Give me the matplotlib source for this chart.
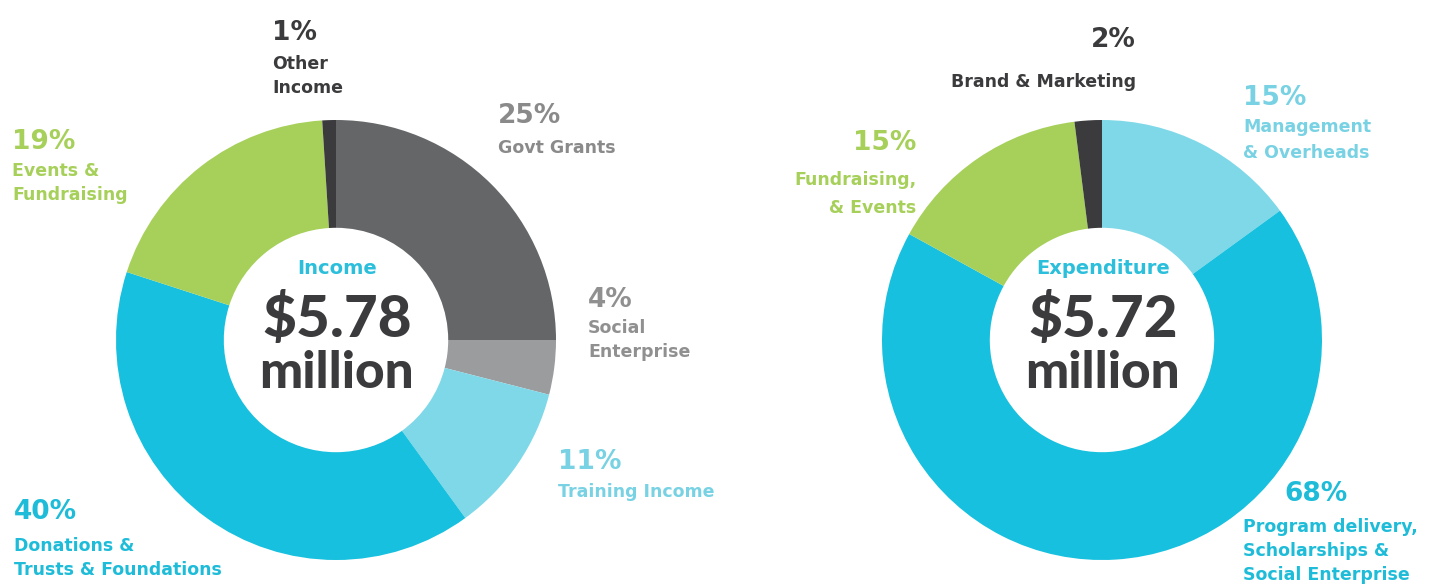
import matplotlib.pyplot as plt

# ----------------------------------------------------
# DATA
# ----------------------------------------------------
income_names = ["Govt Grants", "Social\nEnterprise", "Training Income",
                "Donations &\nTrusts & Foundations", "Events &\nFundraising",
                "Other\nIncome"]
income_pct = [25, 4, 11, 40, 19, 1]
income_total = "$5.78"

expend_names = ["Management\n& Overheads",
                "Program delivery,\nScholarships &\nSocial Enterprise",
                "Fundraising,\n& Events", "Brand & Marketing"]
expend_pct = [15, 68, 15, 2]
expend_total = "$5.72"

# ----------------------------------------------------
# STYLE
# ----------------------------------------------------
W, H = 1446, 584
DARK = "#3b3b3d"
CYAN = "#17c0de"
LIGHT_CYAN = "#7fd8e8"
GREEN = "#a6d05a"

income_colors = ["#646667", "#9b9c9e", LIGHT_CYAN, CYAN, GREEN, DARK]
income_text = ["#8a8a8a", "#909090", "#78d2e3", "#1ebcd8", "#a6d05a", DARK]
expend_colors = [LIGHT_CYAN, CYAN, GREEN, DARK]
expend_text = ["#78d2e3", "#1ebcd8", "#a6d05a", DARK]

# label layout in pixel coords:
# (x of percent, y of percent, x of label, y of first label line, ha, line step)
income_pos = [(498, 116, 498, 148, "left", 24),
              (588, 300, 588, 328, "left", 24),
              (558, 462, 558, 492, "left", 24),
              (14, 512, 14, 546, "left", 24),
              (12, 142, 12, 171, "left", 24),
              (272, 33, 272, 64, "left", 24)]
expend_pos = [(1243, 98, 1243, 127, "left", 26),
              (1284, 494, 1243, 527, "left", 24),
              (916, 143, 916, 180, "right", 28),
              (1136, 40, 1136, 82, "right", 24)]

PCT_FONT = dict(family="DejaVu Sans", fontweight="bold", fontsize=19)
LAB_FONT = dict(family="DejaVu Sans", fontweight="bold", fontsize=12.5)

fig = plt.figure(figsize=(W / 100, H / 100), dpi=100)
ax = fig.add_axes([0, 0, 1, 1])


def py(y):
    # pixel row -> data y
    return H - y


def donut(cx, cy, r, values, colors):
    ax.pie(values, colors=colors, startangle=90, counterclock=False,
           center=(cx, py(cy)), radius=r,
           wedgeprops=dict(width=r * 0.49, linewidth=0))


def labels(names, values, colors, pos):
    for name, v, c, (px, pyy, lx, ly, ha, step) in zip(names, values, colors, pos):
        ax.text(px, py(pyy), f"{v}%", color=c, ha=ha, va="center",
                zorder=5, **PCT_FONT)
        for i, line in enumerate(name.split("\n")):
            ax.text(lx, py(ly + i * step), line, color=c, ha=ha,
                    va="center", zorder=5, **LAB_FONT)


def centre(cx, title, total):
    ax.text(cx, py(268), title, color="#2bbfdb", ha="center", va="center",
            family="DejaVu Sans", fontweight="bold", fontsize=14)
    ax.text(cx, py(320), total, color=DARK, ha="center", va="center",
            family="Lato", fontweight=900, fontsize=42)
    ax.text(cx, py(373), "million", color=DARK, ha="center", va="center",
            family="Lato", fontweight=900, fontsize=37)


donut(336, 340, 220, income_pct, income_colors)
donut(1102, 340, 220, expend_pct, expend_colors)

labels(income_names, income_pct, income_text, income_pos)
labels(expend_names, expend_pct, expend_text, expend_pos)

centre(337, "Income", income_total)
centre(1103, "Expenditure", expend_total)

ax.set_xlim(0, W)
ax.set_ylim(0, H)
ax.set_aspect("equal")
ax.axis("off")

fig.savefig("out.png", dpi=100, facecolor="white")
